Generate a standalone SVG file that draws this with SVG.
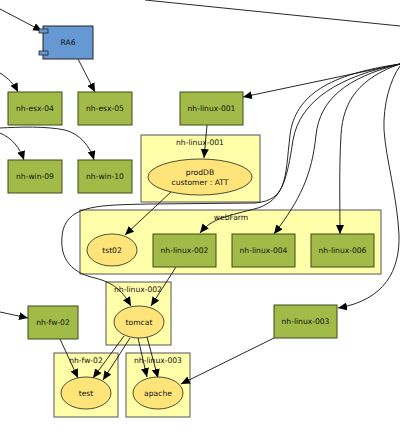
<svg xmlns="http://www.w3.org/2000/svg" width="400" height="433" viewBox="0 0 400 433">
<style>
text{font-family:"DejaVu Sans","Liberation Sans",sans-serif;font-size:7.6px;fill:#111;text-anchor:middle}
.cl{fill:#ffffaa;stroke:#555;stroke-width:1}
.host{fill:#a2bb48;stroke:#3d4a18;stroke-width:1}
.app{fill:#ffe47a;stroke:#222;stroke-width:0.8}
.e{fill:none;stroke:#111;stroke-width:0.9}
.a{marker-end:url(#arr)}
</style>
<defs>
<marker id="arr" markerUnits="userSpaceOnUse" markerWidth="10" markerHeight="8" refX="9" refY="4" orient="auto">
<path d="M0,0 L9,4 L0,8 z" fill="#000"/>
</marker>
</defs>
<rect width="400" height="433" fill="#fff"/>

<g id="clusters">
<g id="cluster-nh-linux-001"><rect class="cl" x="141" y="135" width="119" height="67"/><text x="200" y="145">nh-linux-001</text></g>
<g id="cluster-webFarm"><rect class="cl" x="80" y="210" width="301" height="64"/><text x="231" y="220">webFarm</text></g>
<g id="cluster-nh-linux-002"><rect class="cl" x="106" y="282" width="65" height="63"/><text x="138" y="292">nh-linux-002</text></g>
<g id="cluster-nh-fw-02"><rect class="cl" x="54" y="353" width="64" height="64"/><text x="86" y="363">nh-fw-02</text></g>
<g id="cluster-nh-linux-003"><rect class="cl" x="126" y="353" width="64" height="64"/><text x="158" y="363">nh-linux-003</text></g>
</g>

<g id="connectors">
<path class="e" d="M145,0 L400,26"/>
<path class="e a" d="M0,9 L42,31"/>
<path class="e a" d="M78,59 L95,92"/>
<path class="e a" d="M0,73 C8,78 14,84 18,92"/>
<path class="e a" d="M0,133 C12,138 20,148 24,160"/>
<path class="e a" d="M0,128 C20,127 45,126 65,130 C80,134 90,146 94,160"/>
<path class="e a" d="M0,312 L28,318"/>
<path class="e a" d="M400,64 L243,97"/>
<path class="e a" d="M400,64 C330,74 295,95 290,135 C285,180 287,200 255,203 L150,204 C100,205 70,205 63,230 C58,255 68,272 95,278 C115,283 123,292 131,306"/>
<path class="e a" d="M400,64 C340,76 300,100 293,140 C287,180 282,200 258,208 C228,216 212,218 200,233"/>
<path class="e a" d="M400,64 C345,78 320,100 316,135 C312,175 300,200 274,234"/>
<path class="e a" d="M400,64 C360,78 343,100 341,135 C339,170 340,200 340,234"/>
<path class="e a" d="M400,66 C390,80 383,105 384,130 C386,160 397,195 399,235 C400,270 385,300 338,308"/>
<path class="e a" d="M207,125 L204,158"/>
<path class="e a" d="M172,191 L125,235"/>
<path class="e a" d="M176,267 L151,306"/>
<path class="e a" d="M60,339 L78,378"/>
<path class="e a" d="M124,336 L93,378"/>
<path class="e a" d="M130,338 L103,380"/>
<path class="e a" d="M138,338 L147,377"/>
<path class="e a" d="M147,337 L158,378"/>
<path class="e a" d="M274,338 L181,384"/>
</g>

<g id="RA6">
<rect x="43" y="26" width="50" height="33" fill="#6699d3" stroke="#222" stroke-width="1"/>
<rect x="39" y="29" width="9" height="4" fill="#6699d3" stroke="#222" stroke-width="0.8"/>
<rect x="39" y="51" width="9" height="4" fill="#6699d3" stroke="#222" stroke-width="0.8"/>
<text x="68" y="45">RA6</text>
</g>
<g id="nh-esx-04"><rect class="host" x="8" y="92" width="54" height="33"/><text x="35" y="111">nh-esx-04</text></g>
<g id="nh-esx-05"><rect class="host" x="78" y="92" width="54" height="33"/><text x="105" y="111">nh-esx-05</text></g>
<g id="nh-linux-001"><rect class="host" x="180" y="92" width="63" height="33"/><text x="211.5" y="111">nh-linux-001</text></g>
<g id="nh-win-09"><rect class="host" x="8" y="160" width="54" height="33"/><text x="35" y="179">nh-win-09</text></g>
<g id="nh-win-10"><rect class="host" x="78" y="160" width="54" height="33"/><text x="105" y="179">nh-win-10</text></g>
<g id="prodDB"><ellipse class="app" cx="200" cy="177" rx="52" ry="18"/><text x="200" y="175">prodDB</text><text x="200" y="185">customer : ATT</text></g>
<g id="tst02"><ellipse class="app" cx="112" cy="250" rx="25" ry="16"/><text x="112" y="253">tst02</text></g>
<g id="nh-linux-002"><rect class="host" x="153" y="234" width="63" height="33"/><text x="184.5" y="253">nh-linux-002</text></g>
<g id="nh-linux-004"><rect class="host" x="232" y="234" width="63" height="33"/><text x="263.5" y="253">nh-linux-004</text></g>
<g id="nh-linux-006"><rect class="host" x="311" y="234" width="63" height="33"/><text x="342.5" y="253">nh-linux-006</text></g>
<g id="tomcat"><ellipse class="app" cx="139" cy="322" rx="25" ry="16"/><text x="139" y="325">tomcat</text></g>
<g id="nh-fw-02"><rect class="host" x="28" y="306" width="50" height="33"/><text x="53" y="325">nh-fw-02</text></g>
<g id="nh-linux-003"><rect class="host" x="274" y="305" width="63" height="33"/><text x="305.5" y="324">nh-linux-003</text></g>
<g id="test"><ellipse class="app" cx="86" cy="393" rx="25" ry="16"/><text x="86" y="396">test</text></g>
<g id="apache"><ellipse class="app" cx="158" cy="393" rx="25" ry="16"/><text x="158" y="396">apache</text></g>
</svg>
